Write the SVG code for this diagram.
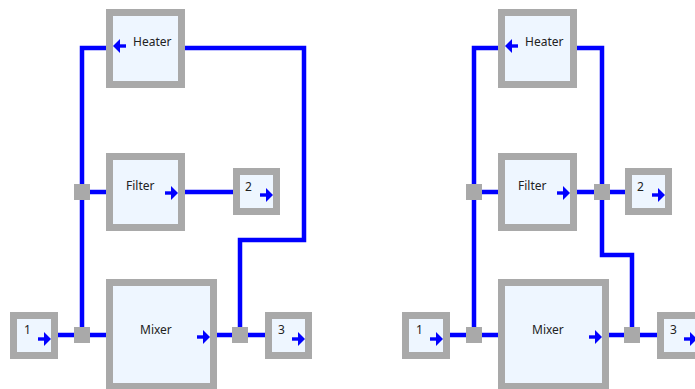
<svg xmlns="http://www.w3.org/2000/svg" xmlns:xlink="http://www.w3.org/1999/xlink" width="695" height="389" viewBox="0 0 695 389">
<style>
.box{fill:#eef6ff;stroke:#a9a9a9;stroke-width:7}
.wire{fill:none;stroke:#0000ff;stroke-width:4.5;stroke-linejoin:miter}
.jn{fill:#a9a9a9}
.lbl{font-family:"Noto Sans","Open Sans",sans-serif;font-size:12px;fill:#222}
.arr{fill:#0000ff}
</style>
<defs>
<g id="ar">
<path class="arr" d="M0,0 L-7,-7 L-7,7 Z"/>
<rect class="arr" x="-13" y="-1.7" width="7" height="3.4"/>
</g>
</defs>
<g id="connectors">
<path class="wire" d="M106,48 H82 V335"/>
<path class="wire" d="M58,335 H106"/>
<path class="wire" d="M82,192 H106"/>
<path class="wire" d="M185,192 H234"/>
<path class="wire" d="M185,48 H304 V240 H240 V335"/>
<path class="wire" d="M217,335 H266"/>
<path class="wire" d="M498,48 H474 V335"/>
<path class="wire" d="M450,335 H498"/>
<path class="wire" d="M474,192 H498"/>
<path class="wire" d="M577,192 H626"/>
<path class="wire" d="M577,48 H602 V255 H632 V335"/>
<path class="wire" d="M609,335 H658"/>
<rect class="jn" x="74" y="184" width="16" height="16"/>
<rect class="jn" x="74" y="327" width="16" height="16"/>
<rect class="jn" x="232" y="327" width="16" height="16"/>
<rect class="jn" x="466" y="184" width="16" height="16"/>
<rect class="jn" x="466" y="327" width="16" height="16"/>
<rect class="jn" x="594" y="184" width="16" height="16"/>
<rect class="jn" x="624" y="327" width="16" height="16"/>
</g>
<g id="heater-a">
<rect class="box" x="109.5" y="12.5" width="72" height="72"/>
<use xlink:href="#ar" transform="translate(113,46) rotate(180)"/>
<text class="lbl" x="133" y="46">Heater</text>
</g>
<g id="filter-a">
<rect class="box" x="109.5" y="156.5" width="72" height="71"/>
<use xlink:href="#ar" transform="translate(178,193)"/>
<text class="lbl" x="126" y="190">Filter</text>
</g>
<g id="mixer-a">
<rect class="box" x="109.5" y="282.5" width="104" height="104"/>
<use xlink:href="#ar" transform="translate(210,337)"/>
<text class="lbl" x="140" y="334">Mixer</text>
</g>
<g id="port1-a">
<rect class="box" x="13.5" y="315.5" width="41" height="40"/>
<use xlink:href="#ar" transform="translate(51,339)"/>
<text class="lbl" x="24" y="334">1</text>
</g>
<g id="port2-a">
<rect class="box" x="236.5" y="171.5" width="40" height="40"/>
<use xlink:href="#ar" transform="translate(273,195)"/>
<text class="lbl" x="245" y="191">2</text>
</g>
<g id="port3-a">
<rect class="box" x="268.5" y="315.5" width="40" height="40"/>
<use xlink:href="#ar" transform="translate(305,339)"/>
<text class="lbl" x="278" y="334">3</text>
</g>
<g id="heater-b">
<rect class="box" x="501.5" y="12.5" width="72" height="72"/>
<use xlink:href="#ar" transform="translate(505,46) rotate(180)"/>
<text class="lbl" x="525" y="46">Heater</text>
</g>
<g id="filter-b">
<rect class="box" x="501.5" y="156.5" width="72" height="71"/>
<use xlink:href="#ar" transform="translate(570,193)"/>
<text class="lbl" x="518" y="190">Filter</text>
</g>
<g id="mixer-b">
<rect class="box" x="501.5" y="282.5" width="104" height="104"/>
<use xlink:href="#ar" transform="translate(602,337)"/>
<text class="lbl" x="532" y="334">Mixer</text>
</g>
<g id="port1-b">
<rect class="box" x="405.5" y="315.5" width="41" height="40"/>
<use xlink:href="#ar" transform="translate(443,339)"/>
<text class="lbl" x="416" y="334">1</text>
</g>
<g id="port2-b">
<rect class="box" x="628.5" y="171.5" width="40" height="40"/>
<use xlink:href="#ar" transform="translate(665,195)"/>
<text class="lbl" x="637" y="191">2</text>
</g>
<g id="port3-b">
<rect class="box" x="660.5" y="315.5" width="40" height="40"/>
<use xlink:href="#ar" transform="translate(697,339)"/>
<text class="lbl" x="670" y="334">3</text>
</g>
</svg>
